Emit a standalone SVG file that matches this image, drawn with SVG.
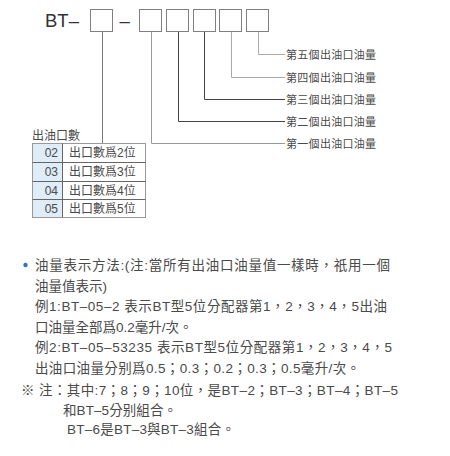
<svg xmlns="http://www.w3.org/2000/svg" width="450" height="456" viewBox="0 0 450 456">
<style>
text{font-family:"Liberation Sans","Noto Sans CJK TC",sans-serif;fill:#4a4a4a}
.box{fill:#fff;stroke:#808080;stroke-width:1}
.lbl{font-size:11px;letter-spacing:0.3px}
.tb{font-size:12px}
.body{font-size:13.5px}
.ln{fill:none;stroke-width:1}
</style>
<rect width="450" height="456" fill="#fff"/>
<g id="code">
<text x="45" y="27" style="font-size:18.5px;fill:#333">BT–</text>
<rect class="box" x="90.5" y="9.5" width="22" height="22"/>
<text x="119.5" y="27" style="font-size:18.5px;fill:#333">–</text>
<rect class="box" x="139.5" y="9.5" width="22" height="22"/>
<rect class="box" x="166.5" y="9.5" width="22" height="22"/>
<rect class="box" x="193.5" y="9.5" width="22" height="22"/>
<rect class="box" x="219.5" y="9.5" width="22" height="22"/>
<rect class="box" x="246.5" y="9.5" width="22" height="22"/>
</g>
<g id="connectors">
<path class="ln" stroke="#777" d="M102.5 32V143"/>
<path class="ln" stroke="#999" d="M151.5 32V143.5H285"/>
<path class="ln" stroke="#444" d="M178.5 32V121.5H285"/>
<path class="ln" stroke="#444" d="M204.5 32V99.5H285"/>
<path class="ln" stroke="#aaa" d="M231.5 32V77.5H285"/>
<path class="ln" stroke="#aaa" d="M258.5 32V54.5H285"/>
</g>
<g id="labels">
<text class="lbl" x="286" y="59">第五個出油口油量</text>
<text class="lbl" x="286" y="81.5">第四個出油口油量</text>
<text class="lbl" x="286" y="103.5">第三個出油口油量</text>
<text class="lbl" x="286" y="125.5">第二個出油口油量</text>
<text class="lbl" x="286" y="147.5">第一個出油口油量</text>
</g>
<g id="table">
<text class="tb" x="32" y="139.5">出油口數</text>
<rect x="32.5" y="143.5" width="30" height="74" fill="#deedf8"/>
<rect x="32.5" y="143.5" width="113" height="74" fill="none" stroke="#999"/>
<path d="M62.5 143.5V217.5M32.5 162.5H145.5M32.5 181.5H145.5M32.5 199.5H145.5" fill="none" stroke="#666"/>
<text class="tb" x="58" y="157" text-anchor="end">02</text>
<text class="tb" x="58" y="176" text-anchor="end">03</text>
<text class="tb" x="58" y="194.5" text-anchor="end">04</text>
<text class="tb" x="58" y="213" text-anchor="end">05</text>
<text class="tb" x="69" y="157">出口數爲2位</text>
<text class="tb" x="69" y="176">出口數爲3位</text>
<text class="tb" x="69" y="194.5">出口數爲4位</text>
<text class="tb" x="69" y="213">出口數爲5位</text>
</g>
<g id="notes">
<circle cx="25.5" cy="265" r="2.2" fill="#2a78b8"/>
<text class="body" x="35" y="270" textLength="355" lengthAdjust="spacing">油量表示方法:(注:當所有出油口油量值一樣時，祇用一個</text>
<text class="body" x="35" y="290.5">油量值表示)</text>
<text class="body" x="35" y="311" textLength="352" lengthAdjust="spacing">例1:BT–05–2 表示BT型5位分配器第1，2，3，4，5出油</text>
<text class="body" x="35" y="331.5">口油量全部爲0.2毫升/次。</text>
<text class="body" x="35" y="352" textLength="357" lengthAdjust="spacing">例2:BT–05–53235 表示BT型5位分配器第1，2，3，4，5</text>
<text class="body" x="35" y="372.5" textLength="325" lengthAdjust="spacing">出油口油量分别爲0.5；0.3；0.2；0.3；0.5毫升/次。</text>
<text class="body" x="21" y="395" textLength="377" lengthAdjust="spacing">※ 注：其中:7；8；9；10位，是BT–2；BT–3；BT–4；BT–5</text>
<text class="body" x="63" y="414.5" textLength="114" lengthAdjust="spacing">和BT–5分别組合。</text>
<text class="body" x="67" y="434" textLength="168" lengthAdjust="spacing">BT–6是BT–3與BT–3組合。</text>
</g>
</svg>
